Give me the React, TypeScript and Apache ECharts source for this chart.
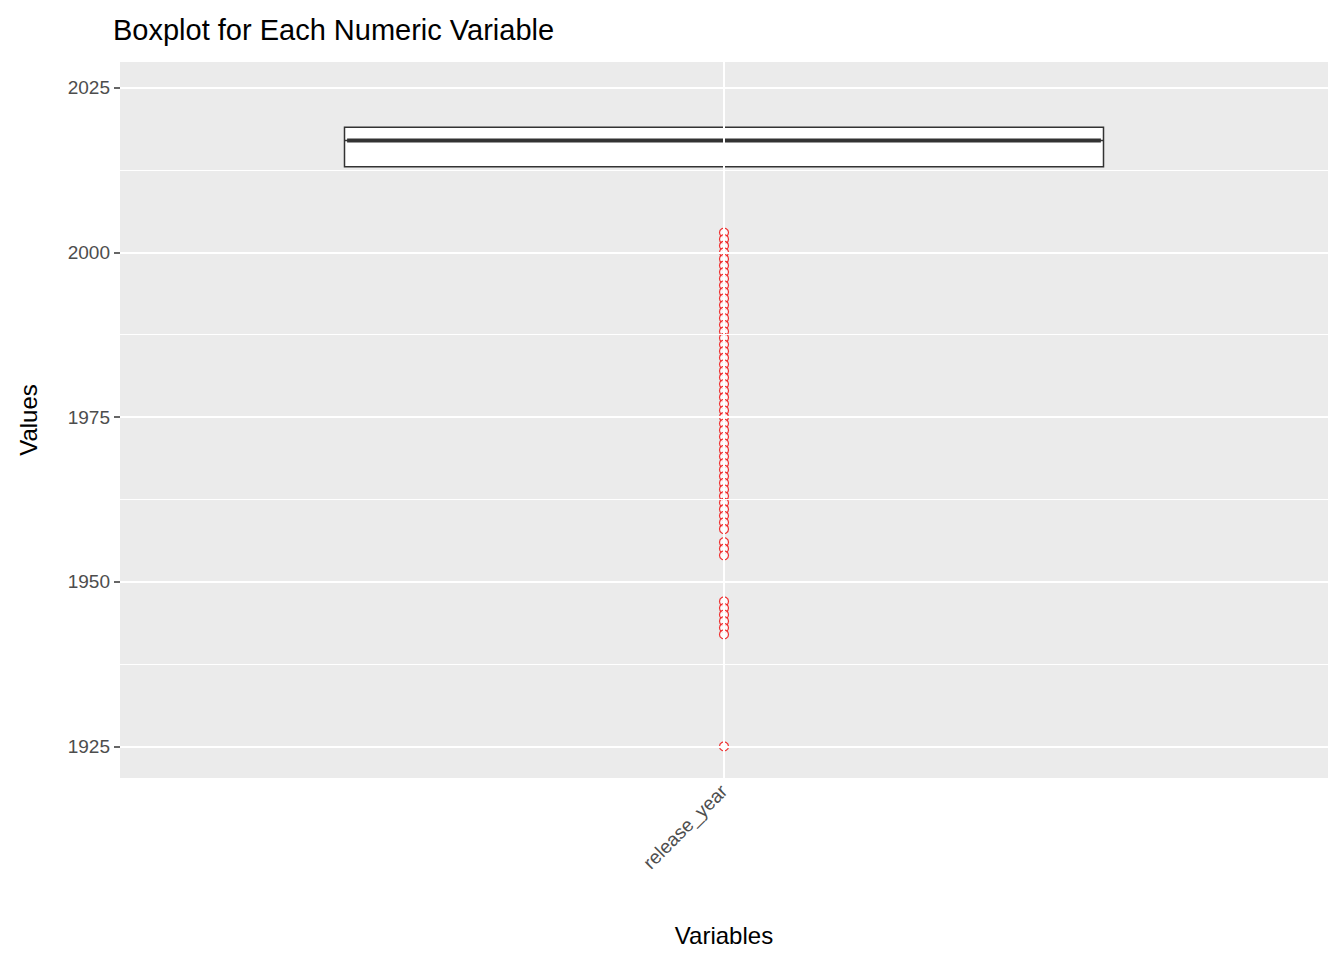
import React, { useEffect, useRef } from "react";
import * as echarts from "echarts";

const categories = ["release_year"];
// [min, Q1, median, Q3, max]
const boxStats = [[2004, 2013, 2017, 2019, 2024]];
const outliers = [
  2003, 2002, 2001, 2000, 1999, 1998, 1997, 1996, 1995, 1994, 1993, 1992, 1991, 1990,
  1989, 1988, 1987, 1986, 1985, 1984, 1983, 1982, 1981, 1980, 1979, 1978, 1977, 1976,
  1975, 1974, 1973, 1972, 1971, 1970, 1969, 1968, 1967, 1966, 1965, 1964, 1963, 1962,
  1961, 1960, 1959, 1958, 1956, 1955, 1954, 1947, 1946, 1945, 1944, 1943, 1942, 1925,
];
const majorTicks = [1925, 1950, 1975, 2000, 2025];
const minorTicks = [1937.5, 1962.5, 1987.5, 2012.5];

const App: React.FC = () => {
  const chartRef = useRef<HTMLDivElement | null>(null);

  useEffect(() => {
    if (!chartRef.current) return;
    const chart = echarts.init(chartRef.current, undefined, { renderer: "svg" });
    const font = "Liberation Sans, Arial, sans-serif";
    const [lo, q1, med, q3, hi] = boxStats[0];

    chart.setOption({
      animation: false,
      backgroundColor: "#ffffff",
      title: {
        text: "Boxplot for Each Numeric Variable",
        left: 100,
        top: 2,
        textStyle: { fontFamily: font, fontSize: 29, fontWeight: "normal", color: "#000" },
      },
      grid: { left: 107, right: 8, top: 54, bottom: 168, backgroundColor: "#ebebeb", show: true, borderWidth: 0 },
      xAxis: [
        {
          type: "category",
          data: categories,
          name: "Variables",
          nameLocation: "middle",
          nameGap: 145,
          nameTextStyle: { fontFamily: font, fontSize: 24, color: "#000" },
          axisLine: { show: false },
          axisTick: { alignWithLabel: true, length: 6, lineStyle: { color: "#333", width: 1.5 } },
          axisLabel: { rotate: 45, fontFamily: font, fontSize: 19, color: "#4d4d4d", margin: 10 },
          splitLine: { show: false },
        },
        { type: "value", min: 0, max: 1, show: false },
      ],
      yAxis: {
        type: "value",
        min: 1920.2,
        max: 2028.9,
        name: "Values",
        nameLocation: "middle",
        nameGap: 80,
        nameTextStyle: { fontFamily: font, fontSize: 24, color: "#000" },
        axisLine: { show: false },
        axisTick: { show: true, length: 6, customValues: majorTicks, lineStyle: { color: "#333", width: 1.5 } },
        axisLabel: {
          customValues: majorTicks,
          formatter: (v: number) => String(v),
          fontFamily: font,
          fontSize: 19,
          color: "#4d4d4d",
          margin: 10,
        },
        splitLine: { show: false },
      },
      series: [
        {
          type: "line",
          xAxisIndex: 1,
          data: [],
          silent: true,
          markLine: {
            silent: true,
            symbol: "none",
            label: { show: false },
            data: [
              ...majorTicks.map((v) => ({ yAxis: v, lineStyle: { color: "#fff", width: 2, type: "solid" } })),
              ...minorTicks.map((v) => ({ yAxis: v, lineStyle: { color: "#fff", width: 1, type: "solid" } })),
              { xAxis: 0.5, lineStyle: { color: "#fff", width: 2, type: "solid" } },
            ],
          },
        },
        {
          type: "line",
          data: [["release_year", q3], ["release_year", hi]],
          symbol: "none",
          lineStyle: { color: "#333333", width: 1.5 },
        },
        {
          type: "line",
          data: [["release_year", lo], ["release_year", q1]],
          symbol: "none",
          lineStyle: { color: "#333333", width: 1.5 },
        },
        {
          type: "boxplot",
          data: [[q1, q1, med, q3, q3]],
          boxWidth: [759, 759],
          itemStyle: { color: "#ffffff", borderColor: "#333333", borderWidth: 1.5 },
        },
        {
          type: "line",
          xAxisIndex: 1,
          data: [
            [0.188, med],
            [0.812, med],
          ],
          symbol: "none",
          lineStyle: { color: "#333333", width: 4 },
        },
        {
          type: "scatter",
          data: outliers.map((v) => ["release_year", v]),
          symbol: "circle",
          symbolSize: 9,
          itemStyle: { color: "#ffffff", borderColor: "#ee0000", borderWidth: 1.2 },
        },
      ],
    });

    return () => chart.dispose();
  }, []);

  return <div ref={chartRef} style={{ width: 1328, height: 944 }} />;
};

export default App;
